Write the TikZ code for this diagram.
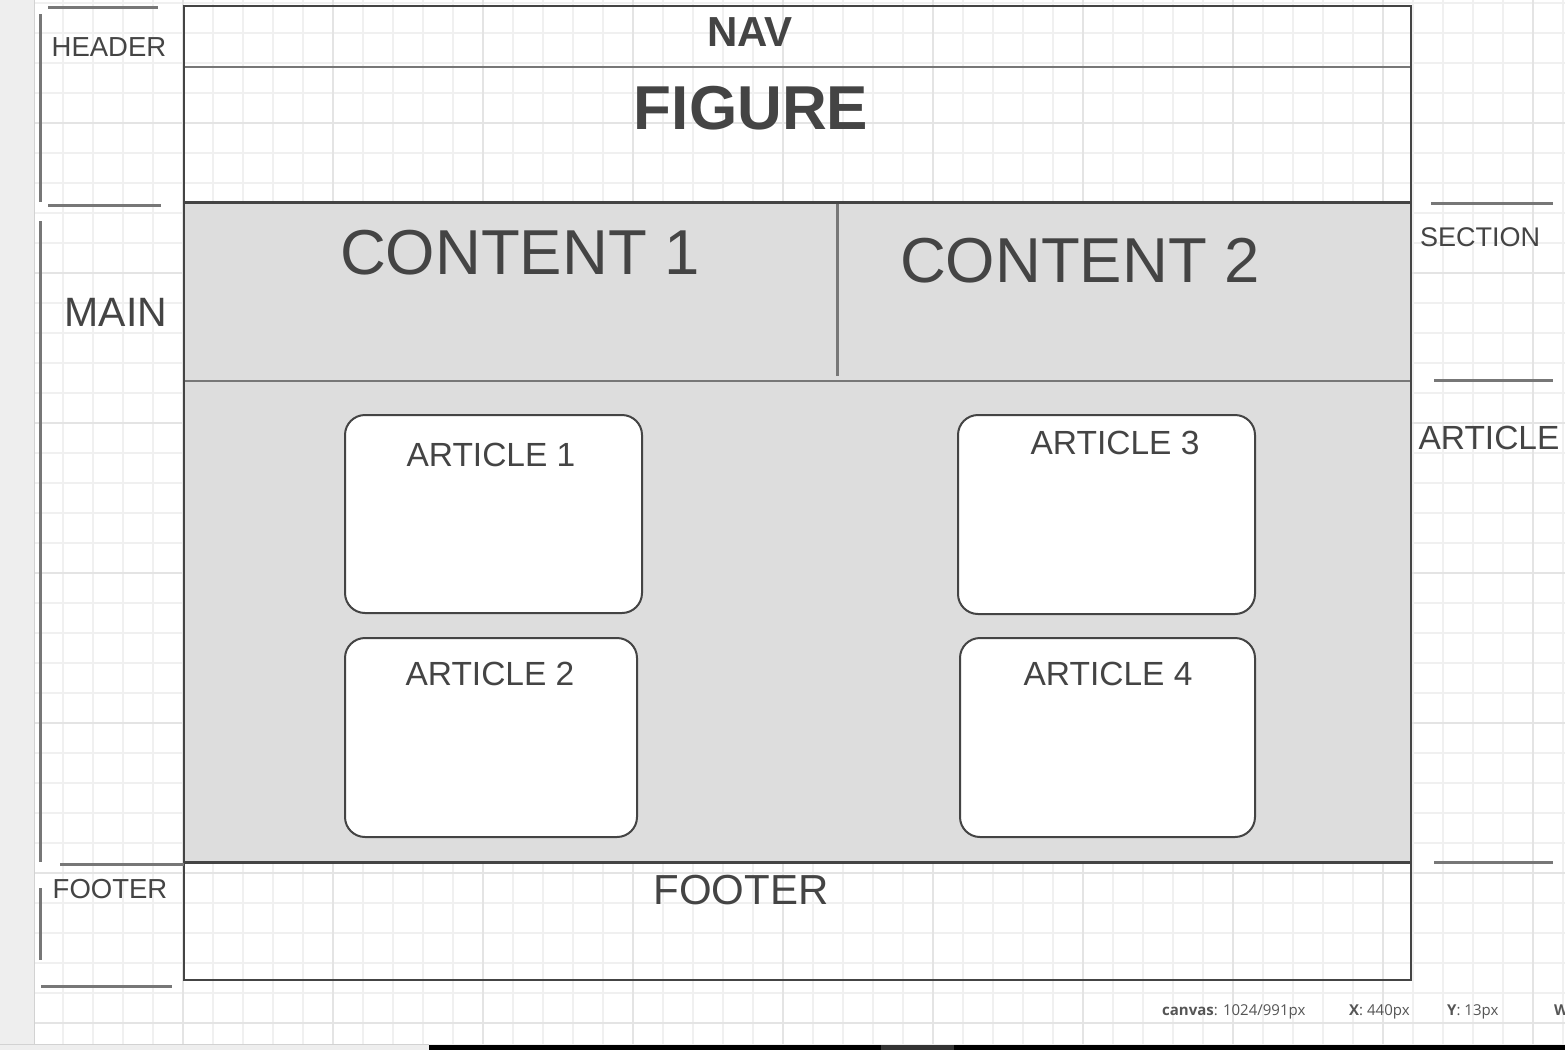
\documentclass[tikz,border=0pt]{standalone}
\usepackage{fontspec}
\setmainfont{Liberation Sans}
\newfontfamily\statusfont{Open Sans}
\usepackage{tikz}
\usetikzlibrary{positioning}
\definecolor{inkgrey}{HTML}{444444}
\definecolor{rulegrey}{HTML}{777777}
\definecolor{panelgrey}{HTML}{DDDDDD}
\definecolor{gridminor}{HTML}{F0F0F0}
\definecolor{gridmajor}{HTML}{E4E4E4}
\definecolor{stripgrey}{HTML}{EEEEEE}
\definecolor{stripedge}{HTML}{D2D2D2}
\definecolor{statgrey}{HTML}{555555}
\newcommand{\fs}[1]{\fontsize{#1}{#1}\selectfont}

\begin{document}
\begin{tikzpicture}[
  x=1pt, y=-1pt,
  region/.style={anchor=north west, inner sep=0pt, outer sep=0pt},
  frame/.style={draw=inkgrey, line width=2.5pt},
  divider/.style={draw=rulegrey, line width=2.5pt},
  bracket/.style={draw=rulegrey, line width=3pt},
  card/.style={region, draw=inkgrey, fill=white, line width=2pt, rounded corners=20pt},
  lab/.style={anchor=base, text=inkgrey, inner sep=0pt},
  gridln/.style={draw=gridminor, line width=1.5pt},
  status/.style={anchor=base west, inner sep=0pt, text=statgrey, font=\statusfont\fs{15}}]
\useasboundingbox (0,0) rectangle (1565,1050);
\fill[white] (0,0) rectangle (1565,1050);
% editor canvas
\fill[stripgrey] (0,0) rectangle (34,1050);
\foreach \gx in {63,93,...,1563} \draw[gridln] (\gx,0) -- (\gx,1044);
\foreach \gy in {3,33,...,1043} \draw[gridln] (35,\gy) -- (1565,\gy);
\foreach \gx in {183,333,...,1533} \draw[gridln, draw=gridmajor] (\gx,0) -- (\gx,1044);
\foreach \gy in {123,273,...,1023} \draw[gridln, draw=gridmajor] (35,\gy) -- (1565,\gy);
\draw[draw=stripedge, line width=1.5pt] (34.5,0) -- (34.5,1044);
\fill[stripgrey] (0,1044) rectangle (1565,1050);
\draw[draw=stripedge, line width=1pt] (0,1044.5) -- (429,1044.5);
\fill[black] (429,1045) rectangle (1565,1050);
\fill[black!80] (881,1045) rectangle (954,1050);

% page layout
\node[region, minimum width=1227pt, minimum height=61pt] (nav) at (184,6) {};
\node[region, minimum width=1227pt, minimum height=135pt] (figure) at (184,67) {};
\node[region, fill=panelgrey, minimum width=653pt, minimum height=179pt] (content1) at (184,202) {};
\node[region, fill=panelgrey, minimum width=574pt, minimum height=179pt] (content2) at (837,202) {};
\node[region, fill=panelgrey, minimum width=1227pt, minimum height=481pt] (section) at (184,381) {};
\node[region, minimum width=1227pt, minimum height=118pt] (footer) at (184,862) {};
\draw[divider] (nav.south west) -- (nav.south east);
\draw[frame, line width=3pt] (figure.south west) -- (figure.south east);
\draw[divider, line width=3pt] ([yshift=-2pt]content1.north east) -- ([yshift=5pt]content1.south east);
\draw[divider] (section.north west) -- (section.north east);
\draw[frame, line width=3pt] (footer.north west) -- (footer.north east);
\draw[frame] (nav.north west) rectangle (footer.south east);

% articles
\node[card, minimum width=297pt, minimum height=198pt] (article1) at (345,415) {};
\node[card, minimum width=292pt, minimum height=199pt] (article2) at (345,638) {};
\node[card, minimum width=297pt, minimum height=199pt] (article3) at (958,415) {};
\node[card, minimum width=295pt, minimum height=199pt] (article4) at (960,638) {};

\node[lab, font=\bfseries\fs{42}] (navtxt) at (750,46) {NAV};
\node[lab, font=\bfseries\fs{62}] (figtxt) at (751,129) {FIGURE};
\node[lab, font=\fs{63.5}] (c1txt) at (520,274) {CONTENT 1};
\node[lab, font=\fs{63.5}] (c2txt) at (1080,282) {CONTENT 2};
\node[lab, font=\fs{33.5}] (a1txt) at (491,466) {ARTICLE 1};
\node[lab, font=\fs{33.5}] (a2txt) at (490,685) {ARTICLE 2};
\node[lab, font=\fs{33.5}] (a3txt) at (1115,454) {ARTICLE 3};
\node[lab, font=\fs{33.5}] (a4txt) at (1108,685) {ARTICLE 4};
\node[lab, font=\fs{42}] (foottxt) at (741,904) {FOOTER};

% side notes
\node[lab, font=\fs{27.5}] (headnote) at (109,56) {HEADER};
\node[lab, font=\fs{41}] (mainnote) at (116,326) {MAIN};
\node[lab, font=\fs{27.5}] (footnote) at (110,898) {FOOTER};
\node[lab, font=\fs{27}] (secnote) at (1480,246) {SECTION};
\node[lab, font=\fs{33.5}] (artnote) at (1489,449) {ARTICLE};
\draw[bracket] (48,7) -- (158,7);
\draw[bracket] (40,14) -- (40,202);
\draw[bracket] (48,205) -- (161,205);
\draw[bracket] (40,221) -- (40,862);
\draw[bracket] (60,864) -- (184,864);
\draw[bracket] (40,888) -- (40,960);
\draw[bracket] (41,986) -- (172,986);
\draw[bracket] (1431,203) -- (1553,203);
\draw[bracket] (1434,380) -- (1553,380);
\draw[bracket] (1434,862) -- (1553,862);

% status bar
\node[status] (canvasinfo) at (1162,1015) {\textbf{canvas}: 1024/991px};
\node[status] (xinfo) at (1349,1015) {\textbf{X}: 440px};
\node[status] (yinfo) at (1447,1015) {\textbf{Y}: 13px};
\node[status] (winfo) at (1554,1015) {\textbf{W}};
\end{tikzpicture}
\end{document}
